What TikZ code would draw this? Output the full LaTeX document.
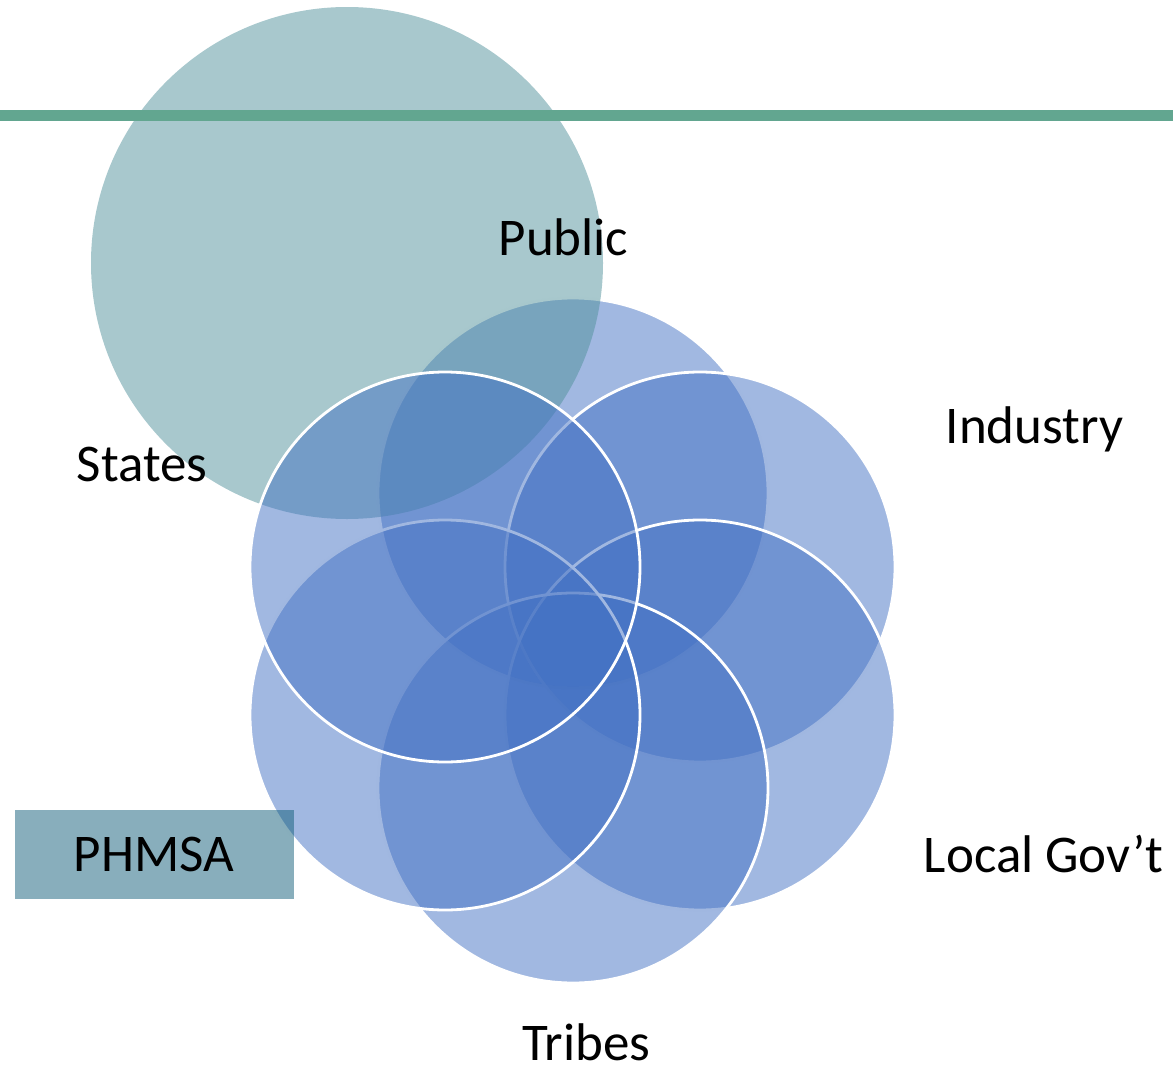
\documentclass[tikz,border=0pt]{standalone}
\usepackage{fontspec}
\setmainfont{Carlito}
\usetikzlibrary{positioning}
\definecolor{petalblue}{HTML}{4371C3}
\definecolor{discteal}{HTML}{51919B}
\definecolor{bandgreen}{HTML}{62A690}
\definecolor{boxteal}{HTML}{115D79}
\tikzset{
  petal/.style={circle,draw=white,line width=2.8pt,fill=petalblue,fill opacity=0.5,minimum size=390pt,inner sep=0pt},
  disc/.style={circle,fill=discteal,fill opacity=0.5,minimum size=512pt,inner sep=0pt},
  lbl/.style={font=\fontsize{53}{60}\selectfont,inner sep=0pt,anchor=base},
  tag/.style={rectangle,fill=boxteal,fill opacity=0.5,text opacity=1,minimum width=279pt,minimum height=89pt,inner sep=0pt,font=\fontsize{53}{60}\selectfont},
}

\begin{document}
\begin{tikzpicture}[x=1pt,y=-1pt]
  \useasboundingbox (0,0) rectangle (1173,1068);
  % circles, back to front
  \node[petal] (ptop) at (573,493) {};
  \node[disc] (teal) at (347,263) {};
  \node[petal] (pur) at (700,567) {};
  \node[petal] (plr) at (700,715) {};
  \node[petal] (pbot) at (573,788) {};
  \node[petal] (pll) at (445,715) {};
  \node[petal] (pul) at (445,567) {};
  \node[tag] (phmsa) at (154,854.5) {PHMSA};
  % band across the top
  \coordinate (bandL) at (0,115.5);
  \coordinate (bandR) at (1173,115.5);
  \draw[bandgreen,line width=11pt] (bandL) -- (bandR);
  % labels
  \node[lbl] (public) at (563.5,255) {Public};
  \node[lbl] (industry) at (1034.5,443) {Industry};
  \node[lbl] (states) at (142,481) {States};
  \node[lbl] (localgov) at (1043.5,872) {Local Gov’t};
  \node[lbl] (tribes) at (586.5,1060) {Tribes};
\end{tikzpicture}
\end{document}
